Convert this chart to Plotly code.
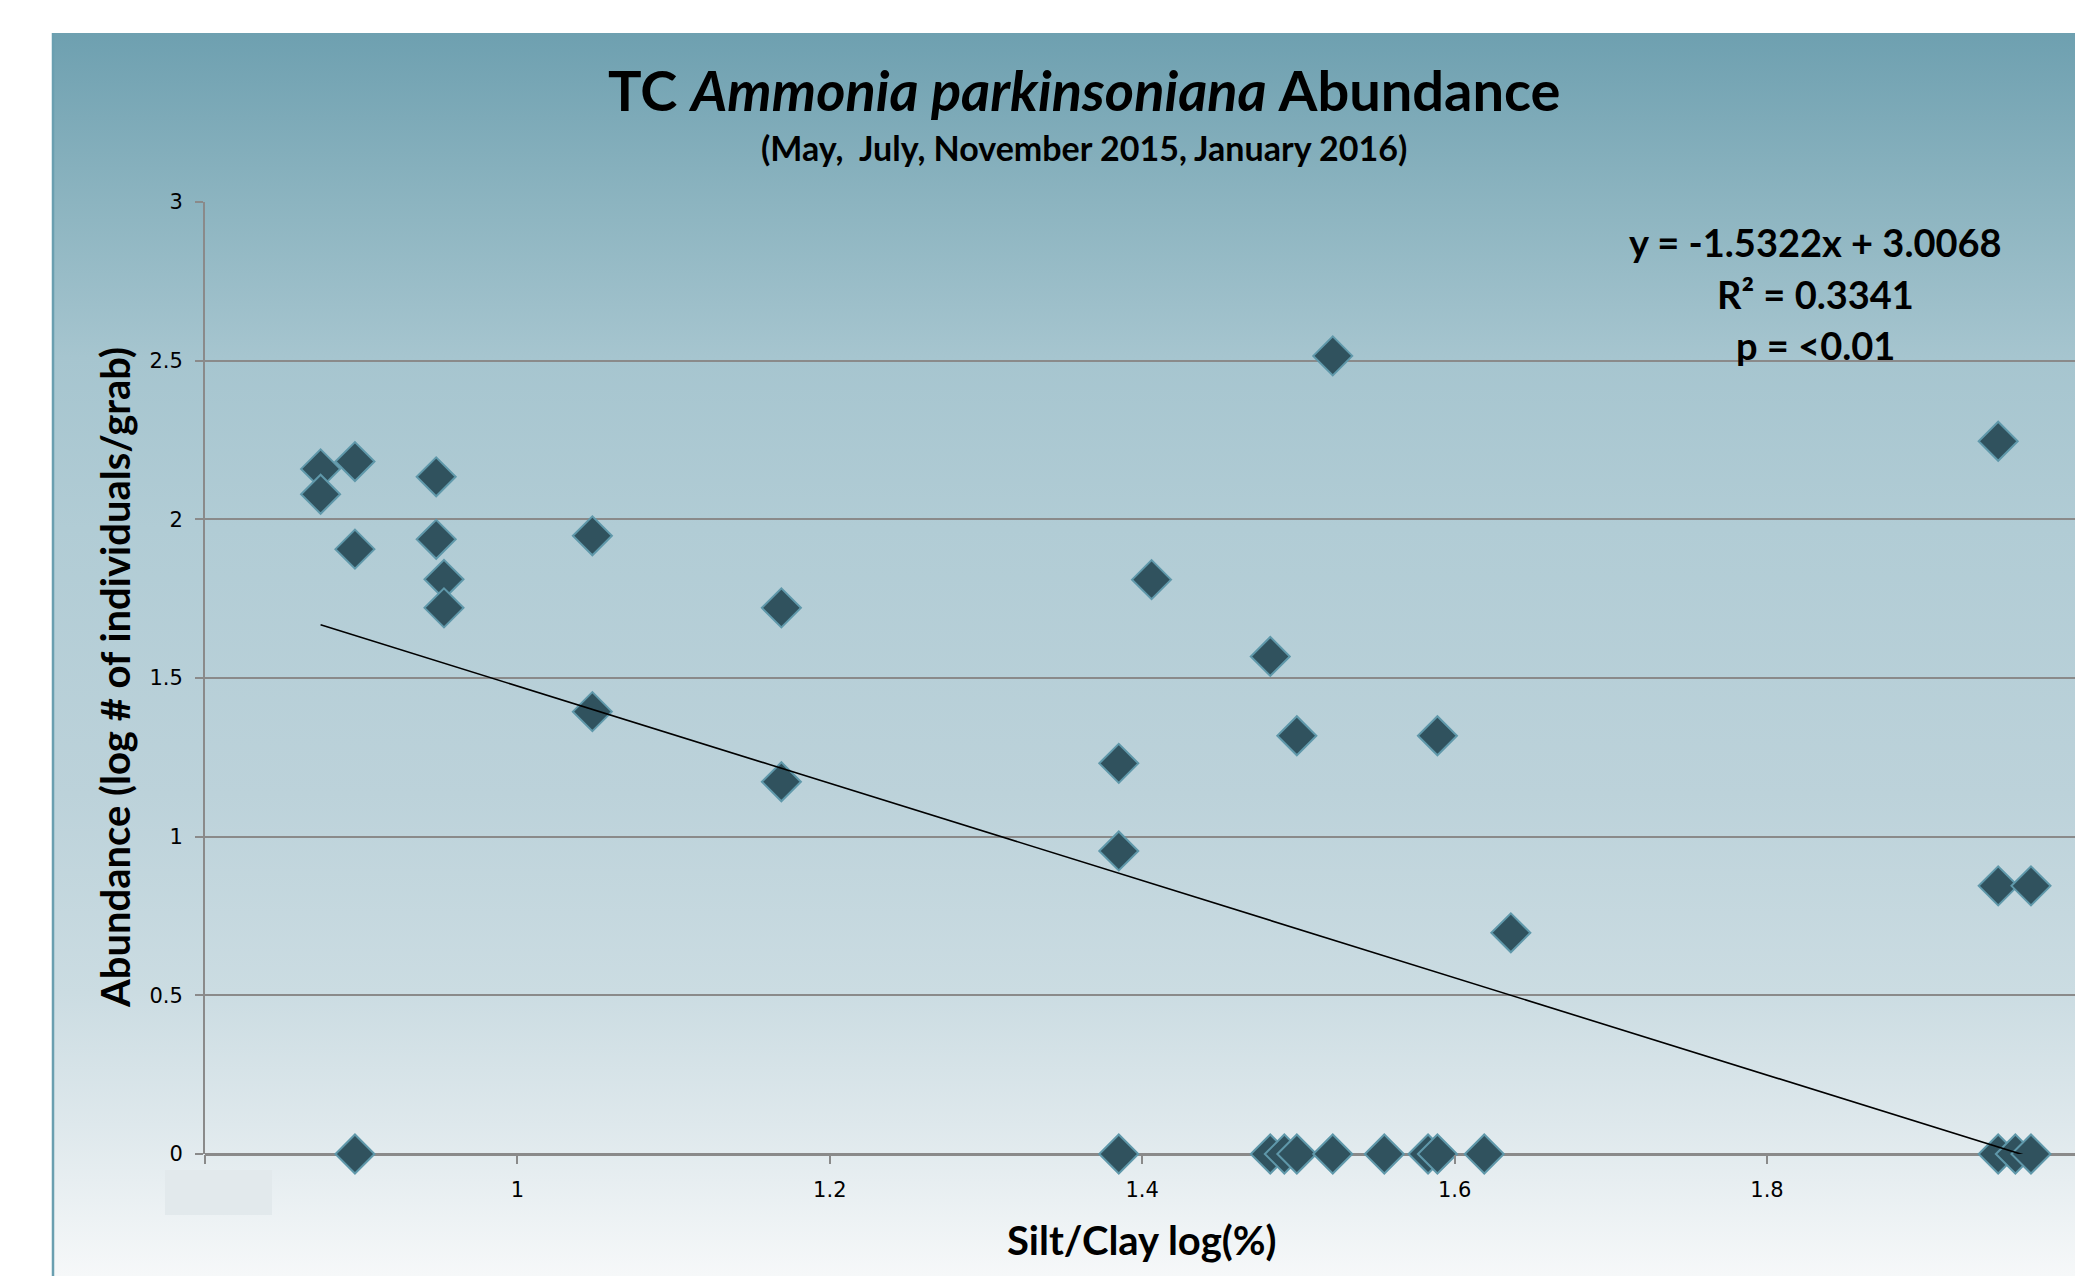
import base64
import plotly.graph_objects as go

# ---- data ----
silt_clay_log = [
    0.874, 0.874, 0.896, 0.896, 0.948, 0.948, 0.953, 0.953,
    1.048, 1.048, 1.169, 1.169, 1.385, 1.385, 1.406, 1.482,
    1.499, 1.522, 1.589, 1.636, 1.948, 1.948, 1.969,
    0.896, 1.385, 1.482, 1.491, 1.499, 1.522, 1.555, 1.583,
    1.589, 1.619, 1.948, 1.959, 1.969,
]
abundance_log = [
    2.159, 2.079, 2.182, 1.906, 2.134, 1.937, 1.811, 1.721,
    1.948, 1.394, 1.721, 1.173, 1.231, 0.955, 1.810, 1.568,
    1.318, 2.515, 1.318, 0.697, 2.246, 0.845, 0.845,
    0, 0, 0, 0, 0, 0, 0, 0,
    0, 0, 0, 0, 0,
]
slope = -1.5322
intercept = 3.0068
eq_lines = ["y = -1.5322x + 3.0068", "R² = 0.3341", "p = <0.01"]
x_tickvals = [0.8, 1.0, 1.2, 1.4, 1.6, 1.8]
x_ticktext = ["", "1", "1.2", "1.4", "1.6", "1.8"]
y_tickvals = [0, 0.5, 1, 1.5, 2, 2.5, 3]

W, H = 2075, 1276
L, R, T, B = 205, 0, 202, 122
PW, PH = W - L - R, H - T - B


def px2paper_x(px):
    return (px - L) / PW


def px2paper_y(py):
    return (H - B - py) / PH


# background gradient panel (as an SVG image)
stops = [
    (0.0, "rgb(110,160,176)"),
    (0.136, "rgb(140,180,192)"),
    (0.261, "rgb(166,197,207)"),
    (0.399, "rgb(177,204,213)"),
    (0.612, "rgb(188,210,218)"),
    (0.772, "rgb(203,220,226)"),
    (0.878, "rgb(222,232,236)"),
    (1.0, "rgb(246,248,249)"),
]
stop_xml = "".join(f'<stop offset="{o}" stop-color="{c}"/>' for o, c in stops)
svg = (
    '<svg xmlns="http://www.w3.org/2000/svg" width="100" height="100" '
    'viewBox="0 0 100 100" preserveAspectRatio="none">'
    '<defs><linearGradient id="g" x1="0" y1="0" x2="0" y2="1">'
    + stop_xml +
    '</linearGradient></defs><rect x="0" y="0" width="100" height="100" fill="url(#g)"/></svg>'
)
svg_uri = "data:image/svg+xml;base64," + base64.b64encode(svg.encode()).decode()

panel_x0, panel_y0 = 52, 33

fig = go.Figure()

fig.add_trace(go.Scatter(
    x=silt_clay_log, y=abundance_log, mode="markers",
    marker=dict(symbol="diamond", size=30, color="#30525E",
                line=dict(color="#5F98AA", width=2)),
    showlegend=False, cliponaxis=False,
))

x_min, x_max = min(silt_clay_log), max(silt_clay_log)
fig.add_trace(go.Scatter(
    x=[x_min, x_max], y=[slope * x_min + intercept, slope * x_max + intercept],
    mode="lines", line=dict(color="black", width=1.6), showlegend=False,
    cliponaxis=False,
))

fig.add_layout_image(dict(
    source=svg_uri, xref="paper", yref="paper",
    x=px2paper_x(panel_x0), y=px2paper_y(panel_y0),
    sizex=px2paper_x(W) - px2paper_x(panel_x0),
    sizey=px2paper_y(panel_y0) - px2paper_y(H),
    sizing="stretch", xanchor="left", yanchor="top", layer="below",
))

shapes = [
    dict(type="line", xref="paper", yref="paper",
         x0=px2paper_x(53), x1=px2paper_x(53),
         y0=px2paper_y(panel_y0), y1=px2paper_y(H + 5),
         line=dict(color="#6A9FB0", width=2.5), layer="below"),
    dict(type="rect", xref="paper", yref="paper",
         x0=px2paper_x(165), x1=px2paper_x(272),
         y0=px2paper_y(1170), y1=px2paper_y(1215),
         fillcolor="#E2E9EC", line=dict(width=0), layer="above"),
]

cal = "Lato, 'Open Sans', sans-serif"
annotations = [
    dict(text="TC <i>Ammonia parkinsoniana</i> Abundance", xref="paper", yref="paper",
         x=px2paper_x(1084), y=px2paper_y(90), showarrow=False,
         font=dict(family=cal, size=56, color="black", weight="bold"),
         xanchor="center", yanchor="middle"),
    dict(text="(May,  July, November 2015, January 2016)", xref="paper", yref="paper",
         x=px2paper_x(1084), y=px2paper_y(147), showarrow=False,
         font=dict(family=cal, size=34, color="black", weight="bold"),
         xanchor="center", yanchor="middle"),
    dict(text="Abundance (log # of individuals/grab)", xref="paper", yref="paper",
         x=px2paper_x(115), y=px2paper_y(678), showarrow=False, textangle=-90,
         font=dict(family=cal, size=40, color="black", weight="bold"),
         xanchor="center", yanchor="middle"),
    dict(text="Silt/Clay log(%)", xref="paper", yref="paper",
         x=px2paper_x(1142), y=px2paper_y(1240), showarrow=False,
         font=dict(family=cal, size=40, color="black", weight="bold"),
         xanchor="center", yanchor="middle"),
]
for t, py in zip(eq_lines, [242, 294, 345]):
    annotations.append(dict(
        text=t, xref="paper", yref="paper", x=px2paper_x(1815), y=px2paper_y(py),
        showarrow=False, font=dict(family=cal, size=38, color="black", weight="bold"),
        xanchor="center", yanchor="middle"))

axis_font = dict(family="DejaVu Sans, Verdana, sans-serif", size=21, color="black")

fig.update_layout(
    width=W, height=H,
    margin=dict(l=L, r=R, t=T, b=B, autoexpand=False),
    paper_bgcolor="white", plot_bgcolor="rgba(0,0,0,0)",
    shapes=shapes, annotations=annotations,
    xaxis=dict(range=[0.8, 0.8 + PW / 1562.0], tickvals=x_tickvals, ticktext=x_ticktext,
               showgrid=False, zeroline=False, showline=False,
               ticks="outside", ticklen=9, tickwidth=1.5, tickcolor="#8A8A8A",
               tickfont=axis_font, ticklabelstandoff=8),
    yaxis=dict(range=[0, 3], tickvals=y_tickvals,
               showgrid=True, gridcolor="#8A8A8A", gridwidth=1.5,
               zeroline=True, zerolinecolor="#8A8A8A", zerolinewidth=3,
               showline=True, linecolor="#8A8A8A", linewidth=2,
               ticks="outside", ticklen=8, tickwidth=1.5, tickcolor="#8A8A8A",
               tickfont=axis_font, ticklabelstandoff=8),
)

fig.write_html("out.html", config={"displayModeBar": False},
               post_script="document.body.style.margin='0';document.body.style.overflow='hidden';")
